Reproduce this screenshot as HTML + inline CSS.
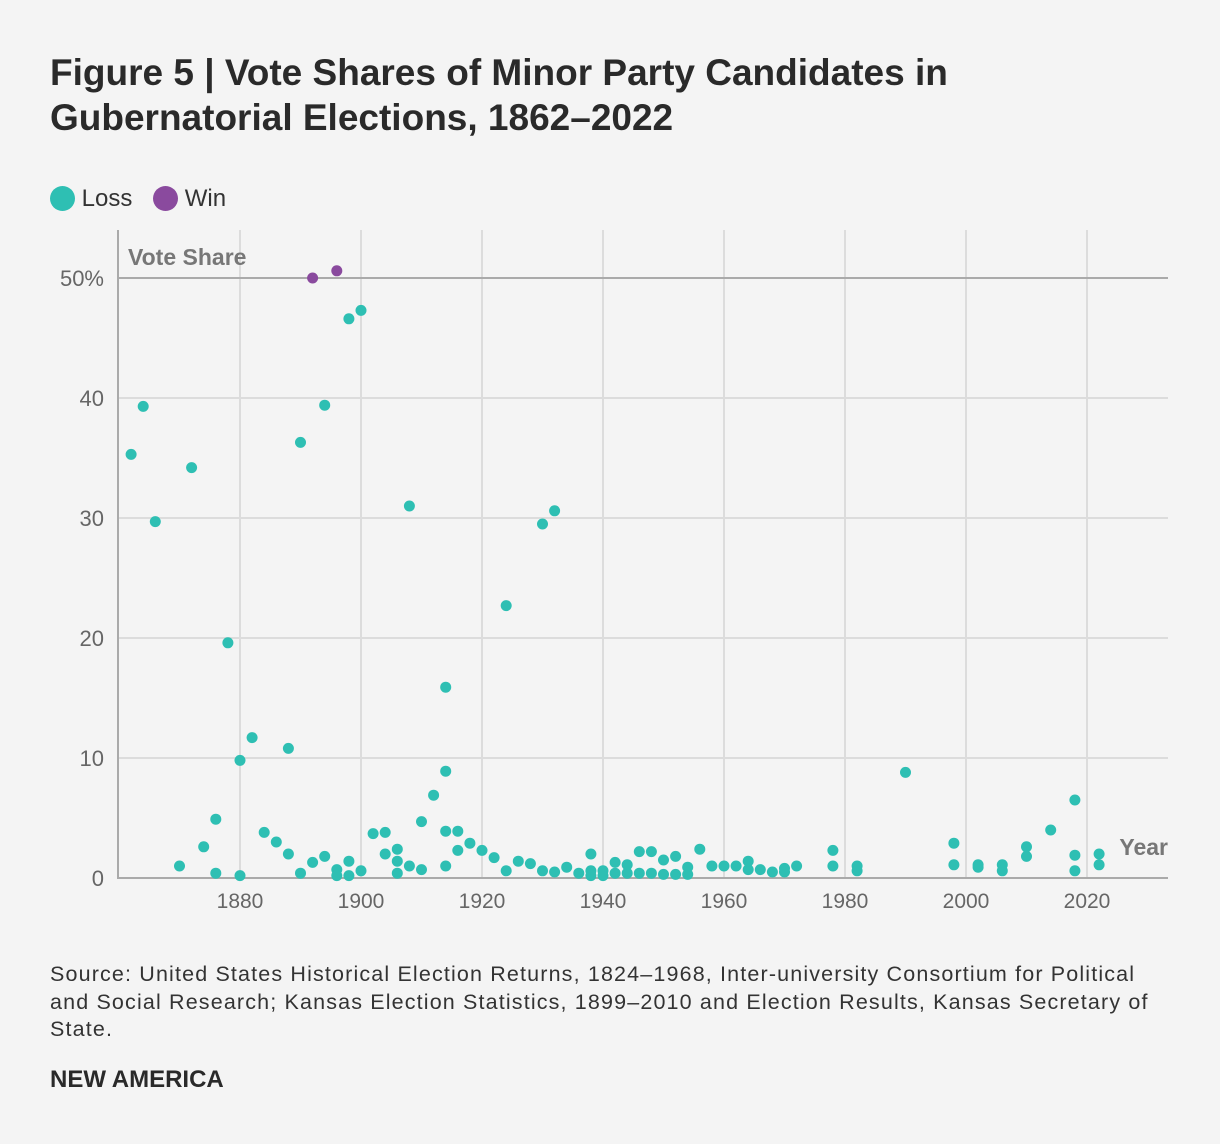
<!DOCTYPE html>
<html><head><meta charset="utf-8"><style>
body{margin:0;background:#f4f4f4;font-family:"Liberation Sans",sans-serif;}
#wrap{position:relative;width:1220px;height:1144px;overflow:hidden;}
.t{position:absolute;margin:0;}
</style></head><body>
<div id="wrap">
<h1 class="t" style="left:50px;top:50px;font-size:37px;line-height:45px;font-weight:bold;color:#2a2a2a;">Figure 5 | Vote Shares of Minor Party Candidates in<br>Gubernatorial Elections, 1862–2022</h1>
<div class="t" style="left:50px;top:185px;font-size:24px;color:#333;">
<span><span style="display:inline-block;width:25px;height:25px;border-radius:50%;background:#2ebfb3;vertical-align:-5px;"></span> Loss</span>
<span style="margin-left:14px;"><span style="display:inline-block;width:25px;height:25px;border-radius:50%;background:#8a4a9e;vertical-align:-5px;"></span> Win</span>
</div>
<svg id="chart" width="1220" height="1144" style="position:absolute;left:0;top:0"></svg>
<div class="t" style="left:50px;top:961px;width:1140px;white-space:nowrap;font-size:21.5px;letter-spacing:1.15px;line-height:27.5px;color:#333;">Source: United States Historical Election Returns, 1824–1968, Inter-university Consortium for Political<br>and Social Research; Kansas Election Statistics, 1899–2010 and Election Results, Kansas Secretary of<br>State.</div>
<div class="t" style="left:50px;top:1066px;font-size:24px;font-weight:bold;color:#2a2a2a;">NEW AMERICA</div>
</div>
<script>
const lossYears=[1862,1864,1866,1870,1872,1874,1876,1876,1878,1880,1880,1882,1884,1886,1888,1888,1890,1890,1892,1894,1894,1896,1896,1898,1898,1898,1900,1900,1902,1904,1904,1906,1906,1906,1908,1908,1910,1910,1912,1914,1914,1914,1914,1916,1916,1918,1920,1922,1924,1924,1926,1928,1930,1930,1932,1932,1934,1936,1938,1938,1938,1940,1940,1942,1942,1944,1944,1946,1946,1948,1948,1950,1950,1952,1952,1954,1954,1956,1958,1960,1962,1964,1964,1966,1968,1970,1970,1972,1978,1978,1982,1982,1990,1998,1998,2002,2002,2006,2006,2010,2010,2014,2018,2018,2018,2022,2022];
const lossValues=[35.3,39.3,29.7,1.0,34.2,2.6,4.9,0.4,19.6,9.8,0.2,11.7,3.8,3.0,10.8,2.0,36.3,0.4,1.3,1.8,39.4,0.7,0.2,46.6,1.4,0.2,47.3,0.6,3.7,3.8,2.0,2.4,1.4,0.4,31.0,1.0,4.7,0.7,6.9,15.9,8.9,3.9,1.0,3.9,2.3,2.9,2.3,1.7,22.7,0.6,1.4,1.2,29.5,0.6,30.6,0.5,0.9,0.4,2.0,0.6,0.2,0.6,0.2,1.3,0.4,1.1,0.4,2.2,0.4,2.2,0.4,1.5,0.3,1.8,0.3,0.9,0.3,2.4,1.0,1.0,1.0,1.4,0.7,0.7,0.5,0.5,0.8,1.0,2.3,1.0,1.0,0.6,8.8,2.9,1.1,1.1,0.9,1.1,0.6,2.6,1.8,4.0,6.5,1.9,0.6,2.0,1.1];
const winYears=[1892,1896];
const winValues=[50.0,50.6];
const yTicks=[0,10,20,30,40,50];
const yTickLabels=["0","10","20","30","40","50%"];
const xTicks=[1880,1900,1920,1940,1960,1980,2000,2020];

const svg=document.getElementById('chart');
const NS='http://www.w3.org/2000/svg';
const x=yr=>240+(yr-1880)*6.05;
const y=v=>878-v*12;
function mk(tag,attrs){const e=document.createElementNS(NS,tag);for(const k in attrs)e.setAttribute(k,attrs[k]);svg.appendChild(e);return e;}
xTicks.forEach(t=>{
  const l=mk('line',{x1:x(t),x2:x(t),y1:230,y2:878,stroke:'#dcdcdc','stroke-width':2});
  
  
  const tx=mk('text',{x:x(t),y:908,'text-anchor':'middle','font-size':21,fill:'#666','font-family':'Liberation Sans, sans-serif'});
  tx.textContent=t;
  
  
});
yTicks.forEach((t,i)=>{
  const l=mk('line',{x1:118,x2:1168,y1:y(t),y2:y(t),stroke:t==50?'#aaa':'#dcdcdc','stroke-width':2});
  
  
  const tx=mk('text',{x:104,y:y(t)+8,'text-anchor':'end','font-size':22,fill:'#666','font-family':'Liberation Sans, sans-serif'});
  tx.textContent=yTickLabels[i];
  
  
});
const ax=mk('line',{x1:118,x2:1168,y1:878,y2:878,stroke:'#aaa','stroke-width':2});


const ay=mk('line',{x1:118,x2:118,y1:230,y2:879,stroke:'#aaa','stroke-width':2});


const yt=mk('text',{x:128,y:265,'font-size':23,'font-weight':'bold',fill:'#777','font-family':'Liberation Sans, sans-serif'});
yt.textContent='Vote Share';


const xt=mk('text',{x:1168,y:855,'text-anchor':'end','font-size':23,'font-weight':'bold',fill:'#777','font-family':'Liberation Sans, sans-serif'});
xt.textContent='Year';


lossYears.forEach((yr,i)=>{
  const c=mk('circle',{cx:x(yr),cy:y(lossValues[i]),r:5.5,fill:'#2ebfb3'});
  
  
});
winYears.forEach((yr,i)=>{
  const c=mk('circle',{cx:x(yr),cy:y(winValues[i]),r:5.5,fill:'#8a4a9e'});
  
  
});
</script>
</body></html>
